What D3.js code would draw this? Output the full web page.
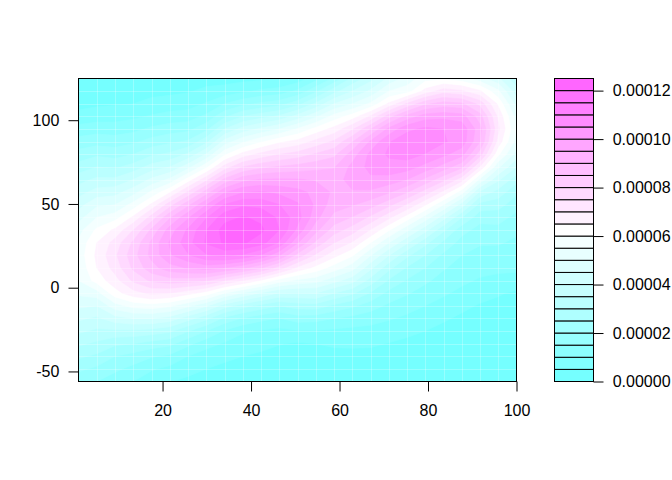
<!DOCTYPE html>
<html>
<head>
<meta charset="utf-8">
<script src="https://cdn.jsdelivr.net/npm/d3@7/dist/d3.min.js"></script>
<style>
  body { margin: 0; background: #fff; }
  svg { display: block; }
  text { font-family: "Liberation Sans", Arial, sans-serif; font-size: 16px; fill: #000; }
</style>
</head>
<body>
<svg id="chart" width="672" height="480"></svg>
<script>
// grid points of the 2d density estimate
var xs = [1, 5.125, 9.25, 13.375, 17.5, 21.625, 25.75, 29.875, 34, 38.125, 42.25, 46.375, 50.5,
          54.625, 58.75, 62.875, 67, 71.125, 75.25, 79.375, 83.5, 87.625, 91.75, 95.875, 100];
var ys = [-56.0, -48.46, -40.93, -33.39, -25.85, -18.31, -10.78, -3.24, 4.30, 11.84, 19.38, 26.91, 34.45,
          41.99, 49.53, 57.06, 64.60, 72.14, 79.68, 87.21, 94.75, 102.29, 109.83, 117.36, 124.9];

// density (x 1e-6), one row per x value, going from the lowest y to the highest y
var densByX = [
  [17, 21, 26, 31, 36, 41, 46, 51, 55, 56, 57, 56, 53, 48, 43, 38, 33, 27, 22, 17, 12, 6.5, 3.5, 2, 1],
  [15, 19, 24, 29, 34, 39, 45, 53, 62, 65, 66, 65, 61, 55, 49, 42, 36, 30, 24, 18, 13, 7.5, 4.2, 2.5, 1.2],
  [12.5, 16, 20, 26, 34, 43, 53, 63, 68, 72, 74, 72, 66, 58, 50, 43, 36, 29, 23, 17.5, 12.5, 8, 4.5, 2.5, 1.3],
  [10, 13.5, 18, 25, 34, 45, 57, 68, 76, 81, 83, 81, 75, 66, 57, 48, 40, 32, 25, 19, 13.5, 9, 5, 3, 1.4],
  [7.5, 10.5, 15.5, 23, 33, 45, 58, 71, 81, 88, 91.5, 91, 86, 77, 66, 56, 46, 37, 29, 22, 16, 10.5, 6.5, 3.5, 1.5],
  [5.2, 8.7, 14, 21.4, 31, 43, 56, 70, 82.7, 93, 99.3, 100.5, 97.4, 89.2, 77.8, 64.4, 51, 40, 31, 24, 17.5, 12, 7, 4, 2],
  [4, 6.5, 10, 16.4, 25.4, 37.2, 51.3, 66.8, 82.3, 95.4, 104.5, 108, 105.9, 99.2, 88.6, 75.7, 62, 48, 35.8, 25.8, 18.5, 12.5, 7.8, 4.6, 2.3],
  [3, 5, 7.5, 12, 20, 31.4, 45.8, 62.8, 80.8, 97.1, 109.4, 115.6, 114.9, 109.4, 99.8, 87.3, 73.3, 58.8, 45.4, 33.6, 23.7, 16.1, 10.5, 6, 3.2],
  [2.5, 4, 6, 9.5, 14.5, 23.7, 37.5, 55, 75.2, 94.9, 111.1, 120.9, 122.1, 118.2, 110.3, 99.2, 86.1, 71.9, 59, 47, 35, 24, 15, 7, 3],
  [2.2, 3.5, 5, 7, 10.8, 19.5, 32.4, 49.5, 70.1, 91.1, 109.2, 120.8, 123.3, 120.4, 114, 104.5, 93, 80, 66.8, 54.1, 42, 30, 18.5, 9, 3.5],
  [2, 3, 4.3, 6.2, 9.5, 16.6, 28.3, 44.5, 64.5, 85.5, 104.4, 117.3, 121, 118.9, 113.5, 105.4, 95.3, 83.5, 71.4, 59.3, 46, 33, 21, 11, 4],
  [1.8, 2.6, 3.6, 5.2, 8.5, 14.8, 25.2, 39.7, 57.8, 77.4, 95.7, 109.3, 115, 114, 110.1, 103.8, 95.5, 85.5, 74.8, 63.9, 50, 36, 23, 12, 5],
  [1.3, 1.9, 2.9, 4.5, 9.5, 17.5, 27.5, 39.5, 53.9, 68.8, 83.2, 95.6, 103.8, 107, 105.7, 101.7, 95.3, 86.8, 77.1, 66.7, 55.5, 42, 28, 16, 7],
  [1.2, 1.9, 3.1, 5, 9.5, 17, 28, 40, 52, 63.3, 74, 83.9, 91.7, 96.9, 99, 98.5, 94.4, 88.3, 80.6, 71.5, 61.6, 49, 36, 24, 13],
  [1.3, 2.1, 3.5, 5.7, 9, 15, 24, 35, 47, 57.7, 66.6, 75.2, 82.5, 88.4, 92.3, 94, 93.1, 89.5, 83.6, 75.9, 66.8, 57.1, 45, 33, 21],
  [1.3, 2.2, 3.6, 5.8, 8.5, 13.5, 21, 31, 42, 52.1, 60.7, 69.4, 77.5, 84.7, 90.5, 94.6, 96.7, 96.5, 92.4, 84.7, 74.2, 62.3, 50, 40, 31],
  [1.3, 2.1, 3.5, 5.7, 8.3, 12, 17.5, 24.5, 33, 41.4, 50.4, 60.1, 69.7, 78.9, 87.2, 94.1, 99, 101.6, 101.4, 95.8, 84.8, 70.7, 56, 46, 38],
  [1.1, 1.8, 3, 4.8, 7.5, 10.5, 14, 18.5, 24.5, 31.6, 40.3, 50.2, 60.6, 71.2, 81.5, 90.6, 98.1, 103.3, 105.8, 104.5, 96.3, 82.6, 65.9, 55, 46],
  [0.9, 1.5, 2.4, 3.9, 6.2, 9, 12, 15.5, 19.5, 24.5, 31.2, 40.8, 51.3, 62.7, 74.4, 85.4, 95, 102.5, 107.1, 108.5, 103.6, 91.9, 75.6, 57.5, 52],
  [0.7, 1.2, 1.9, 3.1, 5, 7.3, 10, 12.8, 16, 20, 25, 31.6, 41.8, 53.1, 65.5, 77.6, 88.9, 98.3, 104.8, 107.8, 106.1, 97.6, 83.8, 66.8, 58],
  [0.5, 0.8, 1.3, 2.2, 3.5, 5.7, 8.3, 10.7, 13, 15.5, 19, 24, 31, 42.2, 55, 68.5, 81.5, 93, 101.3, 105.5, 105, 98.5, 87.2, 72.6, 59],
  [0.3, 0.5, 0.9, 1.5, 2.5, 4, 6.3, 8.8, 11, 13, 15, 18, 22, 30.2, 42.8, 57.2, 72.2, 86.2, 96.9, 103, 103.4, 97.3, 85.8, 70.7, 57],
  [0.2, 0.35, 0.6, 1, 1.7, 2.8, 4.5, 7, 9.5, 11.5, 13.5, 15.5, 18, 22, 28, 38.9, 53.9, 69.3, 82.3, 90.2, 91.7, 87.3, 78.2, 65.8, 52],
  [0.2, 0.3, 0.5, 0.8, 1.3, 2.1, 3.5, 5.6, 8.8, 11, 13, 15.5, 18.5, 22, 27, 33, 41, 51, 61, 68, 71, 69, 64, 56, 46],
  [0.15, 0.2, 0.35, 0.55, 0.9, 1.5, 2.5, 4, 8.5, 10.8, 12, 14, 16, 18.5, 22, 26, 32, 40, 48, 53, 55, 53, 48, 42, 36]
];

// contour levels (x 1e-6) and the cyan-white-magenta palette of the key
var levels = [0, 5, 10, 15, 20, 25, 30, 35, 40, 45, 50, 55, 60, 65, 70, 75, 80, 85, 90, 95, 100, 105, 110, 115, 120, 125];
var levelColors = ["#75FFFF", "#81FFFF", "#8CFFFF", "#98FFFF", "#A3FFFF", "#AFFFFF", "#BAFFFF", "#C6FFFF", "#D1FFFF",
                   "#DDFFFF", "#E8FFFF", "#F4FFFF", "#FFFFFF", "#FFF2FF", "#FFE6FF", "#FFD9FF", "#FFCCFF", "#FFBFFF",
                   "#FFB3FF", "#FFA6FF", "#FF99FF", "#FF8CFF", "#FF80FF", "#FF73FF", "#FF66FF"];

var xTicks = [20, 40, 60, 80, 100];
var yTicks = [-50, 0, 50, 100];
var keyTicks = [0, 20, 40, 60, 80, 100, 120];

var svg = d3.select('#chart');
var plot = {left: 78.5, right: 516.5, top: 78.5, bottom: 381.5};
var key = {left: 554.5, right: 593.5};

var x = d3.scaleLinear().domain([xs[0], xs[xs.length - 1]]).range([plot.left, plot.right]);
var y = d3.scaleLinear().domain([ys[0], ys[ys.length - 1]]).range([plot.bottom, plot.top]);
var z = d3.scaleLinear().domain([levels[0], levels[levels.length - 1]]).range([plot.bottom, plot.top]);

var nx = xs.length, ny = ys.length;
var values = new Array(nx * ny);
for (var j = 0; j < ny; j++) {
    for (var i = 0; i < nx; i++) {
        values[j * nx + i] = densByX[i][j];
    }
}

// d3.contours puts sample i at grid coordinate i + 0.5
var gx = d3.scaleLinear().domain([0.5, nx - 0.5]).range([xs[0], xs[nx - 1]]);
var gy = d3.scaleLinear().domain([0.5, ny - 0.5]).range([ys[0], ys[ny - 1]]);
var proj = d3.geoTransform({
    point: function (px, py) { this.stream.point(x(gx(px)), y(gy(py))); }
});
var path = d3.geoPath(proj);

var bands = d3.contours().size([nx, ny]).thresholds(levels.slice(0, -1))(values);

svg.append('clipPath').attr('id', 'plotclip')
    .append('rect')
    .attr('x', plot.left).attr('y', plot.top)
    .attr('width', plot.right - plot.left).attr('height', plot.bottom - plot.top);

var g = svg.append('g').attr('clip-path', 'url(#plotclip)');

g.append('rect')
    .attr('x', plot.left).attr('y', plot.top)
    .attr('width', plot.right - plot.left).attr('height', plot.bottom - plot.top)
    .attr('fill', levelColors[0]);

g.selectAll('path.band')
    .data(bands)
    .enter().append('path')
    .attr('class', 'band')
    .attr('d', path)
    .attr('fill', function (d) { return levelColors[levels.indexOf(d.value)]; })
    .attr('stroke', function (d) { return levelColors[levels.indexOf(d.value)]; })
    .attr('stroke-width', 0.6);

// faint seams between grid cells (as filled.contour leaves them)
g.selectAll('line.vseam')
    .data(xs.slice(1, -1))
    .enter().append('line')
    .attr('class', 'vseam')
    .attr('x1', function (d) { return Math.round(x(d)) + 0.5; })
    .attr('x2', function (d) { return Math.round(x(d)) + 0.5; })
    .attr('y1', plot.top).attr('y2', plot.bottom)
    .attr('stroke', '#fff').attr('stroke-opacity', 0.25).attr('stroke-width', 1)
    .attr('shape-rendering', 'crispEdges');

g.selectAll('line.hseam')
    .data(ys.slice(1, -1))
    .enter().append('line')
    .attr('class', 'hseam')
    .attr('y1', function (d) { return Math.round(y(d)) + 0.5; })
    .attr('y2', function (d) { return Math.round(y(d)) + 0.5; })
    .attr('x1', plot.left).attr('x2', plot.right)
    .attr('stroke', '#fff').attr('stroke-opacity', 0.25).attr('stroke-width', 1)
    .attr('shape-rendering', 'crispEdges');

// plot box
svg.append('rect')
    .attr('x', plot.left).attr('y', plot.top)
    .attr('width', plot.right - plot.left).attr('height', plot.bottom - plot.top)
    .attr('fill', 'none').attr('stroke', '#000').attr('stroke-width', 1);

var xAxis = svg.append('g')
    .attr('transform', 'translate(0,' + plot.bottom + ')')
    .call(d3.axisBottom(x).tickValues(xTicks).tickSize(10).tickSizeOuter(0).tickPadding(13)
        .tickFormat(function (d) { return String(d); }));
var yAxis = svg.append('g')
    .attr('transform', 'translate(' + plot.left + ',0)')
    .call(d3.axisLeft(y).tickValues(yTicks).tickSize(10).tickSizeOuter(0).tickPadding(9.2)
        .tickFormat(function (d) { return String(d); }));

// colour key
svg.selectAll('rect.key')
    .data(levelColors)
    .enter().append('rect')
    .attr('class', 'key')
    .attr('x', key.left)
    .attr('width', key.right - key.left)
    .attr('y', function (d, k) { return z(levels[k + 1]); })
    .attr('height', function (d, k) { return z(levels[k]) - z(levels[k + 1]); })
    .attr('fill', function (d) { return d; })
    .attr('stroke', '#000').attr('stroke-width', 1);

var keyAxis = svg.append('g')
    .attr('transform', 'translate(' + key.right + ',0)')
    .call(d3.axisRight(z).tickValues(keyTicks).tickSize(10).tickSizeOuter(0).tickPadding(9.2)
        .tickFormat(function (d) { return (d * 1e-6).toFixed(5); }));

[xAxis, yAxis, keyAxis].forEach(function (a) {
    a.select('.domain').remove();
    a.attr('font-family', null).attr('font-size', null);
    a.selectAll('line').attr('stroke', '#000');
    a.selectAll('text').attr('fill', '#000');
});
</script>
</body>
</html>
